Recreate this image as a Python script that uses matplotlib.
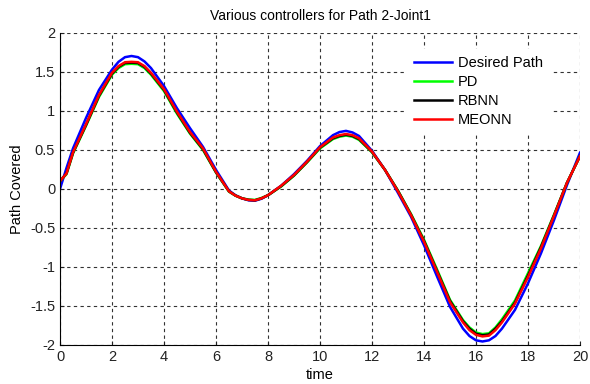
# Tracking of Path 2 (Joint 1) by the different controllers
import matplotlib
matplotlib.use("Agg")
import matplotlib.pyplot as plt

plt.rcParams['font.family'] = ['Liberation Sans', 'DejaVu Sans']

# time samples (s)
t = [0, 0.25, 0.5, 1, 1.5, 2, 2.25, 2.5, 2.75, 3, 3.25, 3.5, 4, 4.5, 5, 5.5, 6,
     6.5, 6.75, 7, 7.25, 7.5, 7.75, 8, 8.5, 9, 9.5, 10, 10.5, 10.75, 11, 11.25,
     11.5, 12, 12.5, 13, 13.5, 14, 14.5, 15, 15.5, 15.75, 16, 16.25, 16.5,
     16.75, 17, 17.5, 18, 18.5, 19, 19.5, 20]

desired = [0.0, 0.27, 0.52, 0.91, 1.27, 1.53, 1.63, 1.69, 1.705, 1.69, 1.635,
           1.55, 1.32, 1.035, 0.78, 0.54, 0.245, -0.02, -0.08, -0.12, -0.145,
           -0.15, -0.125, -0.08, 0.04, 0.19, 0.36, 0.55, 0.69, 0.73, 0.745,
           0.725, 0.68, 0.49, 0.245, -0.05, -0.355, -0.72, -1.12, -1.51, -1.79,
           -1.885, -1.94, -1.955, -1.94, -1.885, -1.79, -1.55, -1.21, -0.825,
           -0.40, 0.05, 0.465]

meonn = [0.1, 0.2, 0.47, 0.83, 1.205, 1.49, 1.575, 1.625, 1.63, 1.625, 1.575,
         1.49, 1.28, 0.99, 0.73, 0.52, 0.22, -0.03, -0.085, -0.12, -0.14,
         -0.145, -0.12, -0.08, 0.04, 0.18, 0.35, 0.535, 0.66, 0.69, 0.705,
         0.69, 0.65, 0.48, 0.245, -0.03, -0.335, -0.675, -1.06, -1.45, -1.71,
         -1.81, -1.87, -1.89, -1.88, -1.81, -1.71, -1.47, -1.13, -0.76,
         -0.345, 0.08, 0.42]

rbnn = [0.1, 0.2, 0.465, 0.82, 1.195, 1.48, 1.565, 1.615, 1.62, 1.615, 1.565,
        1.48, 1.27, 0.98, 0.72, 0.51, 0.215, -0.03, -0.085, -0.12, -0.14,
        -0.145, -0.12, -0.08, 0.035, 0.175, 0.345, 0.53, 0.65, 0.68, 0.695,
        0.68, 0.64, 0.475, 0.245, -0.025, -0.33, -0.665, -1.05, -1.435, -1.695,
        -1.79, -1.855, -1.875, -1.865, -1.79, -1.695, -1.455, -1.11, -0.745,
        -0.34, 0.08, 0.42]

pd_ = [0.1, 0.19, 0.455, 0.81, 1.18, 1.465, 1.55, 1.60, 1.605, 1.60, 1.55,
       1.465, 1.255, 0.965, 0.71, 0.50, 0.21, -0.035, -0.085, -0.12, -0.135,
       -0.14, -0.115, -0.08, 0.03, 0.17, 0.34, 0.52, 0.64, 0.67, 0.685,
       0.67, 0.63, 0.47, 0.245, -0.02, -0.32, -0.65, -1.03, -1.42, -1.68,
       -1.775, -1.84, -1.86, -1.85, -1.775, -1.67, -1.43, -1.08, -0.73,
       -0.33, 0.08, 0.42]

fig = plt.figure(figsize=(5.9, 3.84), dpi=100)
ax = fig.add_axes([0.1017, 0.1016, 0.8813, 0.8125])

ax.plot(t, desired, color=(0, 0, 1), lw=1.8, label='Desired Path')
ax.plot(t, pd_, color=(0, 1, 0), lw=1.8, label='PD')
ax.plot(t, rbnn, color='black', lw=1.8, label='RBNN')
ax.plot(t, meonn, color=(1, 0, 0), lw=1.8, label='MEONN')

ax.set_xlim(0, 20)
ax.set_ylim(-2, 2)
ax.set_xticks(range(0, 21, 2))
ax.set_yticks([-2, -1.5, -1, -0.5, 0, 0.5, 1, 1.5, 2])
ax.set_yticklabels(['-2', '-1.5', '-1', '-0.5', '0', '0.5', '1', '1.5', '2'])
ax.tick_params(direction='in', length=3, labelsize=10.5, colors='#222222')
ax.grid(True, color='0.2', linestyle=(0, (3, 3)), linewidth=0.8)
ax.spines['top'].set_visible(False)
ax.spines['right'].set_visible(False)

ax.set_title('Various controllers for Path 2-Joint1', fontsize=10, pad=9)
ax.set_xlabel('time', fontsize=10.5, labelpad=3)
ax.set_ylabel('Path Covered', fontsize=10.5, labelpad=4)

leg = ax.legend(loc='upper right', bbox_to_anchor=(0.956, 0.972), fontsize=10.5,
                frameon=True, fancybox=False, edgecolor='white', framealpha=1,
                handlelength=2.6, handletextpad=0.35, labelspacing=0.33,
                borderpad=0.5)

fig.savefig('out.png', dpi=100)
